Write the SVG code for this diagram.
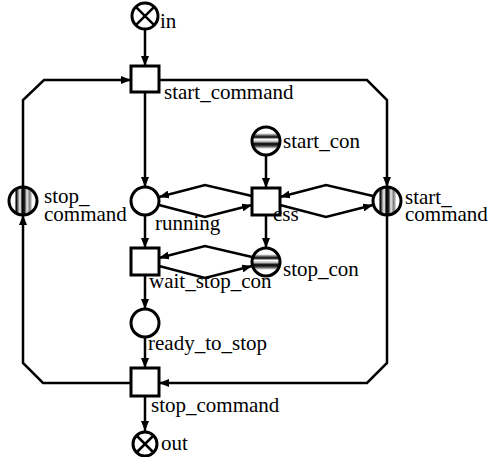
<svg xmlns="http://www.w3.org/2000/svg" width="489" height="457" viewBox="0 0 489 457">
  <style>
    .place { stroke: #000; stroke-width: 3; fill: #fff; }
    .trans { stroke: #000; stroke-width: 3; fill: #fff; }
    .arc { stroke: #000; stroke-width: 2.5; fill: none; marker-end: url(#arrow); stroke-linejoin: miter; }
    .cross { stroke: #000; stroke-width: 2.5; }
    .lbl { font-family: 'Liberation Serif', 'Times New Roman', Times, serif; font-size: 21px; fill: #000; }
  </style>
  <defs>
    <marker id="arrow" viewBox="0 0 10 8" refX="10" refY="4" markerWidth="10" markerHeight="8" orient="auto" markerUnits="userSpaceOnUse">
      <path d="M0,0 L10,4 L0,8 z" fill="#000"/>
    </marker>
    <!-- striped fill, bands running vertically -->
    <linearGradient id="vstripes" x1="0" y1="0" x2="1" y2="0">
      <stop offset="0" stop-color="#fff"/>
      <stop offset="0.2" stop-color="#fff"/>
      <stop offset="0.26" stop-color="#000"/>
      <stop offset="0.33" stop-color="#888"/>
      <stop offset="0.4" stop-color="#fff"/>
      <stop offset="0.47" stop-color="#000"/>
      <stop offset="0.56" stop-color="#222"/>
      <stop offset="0.64" stop-color="#eee"/>
      <stop offset="0.74" stop-color="#777"/>
      <stop offset="0.84" stop-color="#fff"/>
      <stop offset="1" stop-color="#fff"/>
    </linearGradient>
    <!-- striped fill, bands running horizontally -->
    <linearGradient id="hstripes" x1="0" y1="0" x2="0" y2="1">
      <stop offset="0" stop-color="#fff"/>
      <stop offset="0.22" stop-color="#fff"/>
      <stop offset="0.29" stop-color="#777"/>
      <stop offset="0.36" stop-color="#000"/>
      <stop offset="0.44" stop-color="#fff"/>
      <stop offset="0.52" stop-color="#bbb"/>
      <stop offset="0.6" stop-color="#000"/>
      <stop offset="0.68" stop-color="#444"/>
      <stop offset="0.78" stop-color="#fff"/>
      <stop offset="1" stop-color="#fff"/>
    </linearGradient>
  </defs>

  <g id="connectors">
    <path class="arc" d="M145,29 L145,66"/>
    <path class="arc" d="M145,92 L145,187"/>
    <path class="arc" d="M145,215 L145,248"/>
    <path class="arc" d="M145,275 L145,309"/>
    <path class="arc" d="M145,337 L145,368"/>
    <path class="arc" d="M145,396 L145,431"/>
    <path class="arc" d="M266,155 L266,188"/>
    <path class="arc" d="M266,215 L266,248"/>
    <path class="arc" d="M159,80 L367,80 L387,100 L387,187"/>
    <path class="arc" d="M387,215 L387,363 L367,383 L159,383"/>
    <path class="arc" d="M131,383 L43,383 L23,363 L23,215"/>
    <path class="arc" d="M23,187 L23,100 L44,80 L131,80"/>
    <path class="arc" d="M252,196 L205,185 L159,197"/>
    <path class="arc" d="M159,205 L205,217 L252,205"/>
    <path class="arc" d="M373,196 L326,185 L280,197"/>
    <path class="arc" d="M280,205 L326,217 L373,205"/>
    <path class="arc" d="M252,257 L205,246 L159,258"/>
    <path class="arc" d="M159,266 L205,278 L252,266"/>
  </g>

  <g id="in">
    <circle class="place" cx="145" cy="16" r="13"/>
    <path class="cross" d="M135.8,6.8 L154.2,25.2 M154.2,6.8 L135.8,25.2"/>
    <text class="lbl" font-family="Liberation Serif, serif" x="160" y="28">in</text>
  </g>
  <g id="start_command">
    <rect class="trans" x="131" y="66" width="28" height="26"/>
    <text class="lbl" font-family="Liberation Serif, serif" x="164" y="99">start_command</text>
  </g>
  <g id="running">
    <circle class="place" cx="145" cy="201" r="14"/>
    <text class="lbl" font-family="Liberation Serif, serif" x="155" y="230">running</text>
  </g>
  <g id="stop_command_place">
    <circle class="place" cx="23" cy="201" r="14" style="fill:url(#vstripes)"/>
    <text class="lbl" font-family="Liberation Serif, serif" x="44" y="203">stop_<tspan x="44" y="221">command</tspan></text>
  </g>
  <g id="start_con">
    <circle class="place" cx="266" cy="141" r="14" style="fill:url(#hstripes)"/>
    <text class="lbl" font-family="Liberation Serif, serif" x="283" y="148">start_con</text>
  </g>
  <g id="css">
    <rect class="trans" x="252" y="188" width="28" height="27"/>
    <text class="lbl" font-family="Liberation Serif, serif" x="273" y="221">css</text>
  </g>
  <g id="start_command_place">
    <circle class="place" cx="387" cy="201" r="14" style="fill:url(#vstripes)"/>
    <text class="lbl" font-family="Liberation Serif, serif" x="405" y="204">start_<tspan x="405" y="221">command</tspan></text>
  </g>
  <g id="stop_con">
    <circle class="place" cx="266" cy="262" r="14" style="fill:url(#hstripes)"/>
    <text class="lbl" font-family="Liberation Serif, serif" x="283" y="276">stop_con</text>
  </g>
  <g id="wait_stop_con">
    <rect class="trans" x="131" y="248" width="28" height="27"/>
    <text class="lbl" font-family="Liberation Serif, serif" x="149" y="288">wait_stop_con</text>
  </g>
  <g id="ready_to_stop">
    <circle class="place" cx="145" cy="323" r="14"/>
    <text class="lbl" font-family="Liberation Serif, serif" x="148" y="350">ready_to_stop</text>
  </g>
  <g id="stop_command">
    <rect class="trans" x="131" y="368" width="28" height="28"/>
    <text class="lbl" font-family="Liberation Serif, serif" x="151" y="412">stop_command</text>
  </g>
  <g id="out">
    <circle class="place" cx="145" cy="444" r="12"/>
    <path class="cross" d="M136.5,435.5 L153.5,452.5 M153.5,435.5 L136.5,452.5"/>
    <text class="lbl" font-family="Liberation Serif, serif" x="161" y="450">out</text>
  </g>
</svg>
